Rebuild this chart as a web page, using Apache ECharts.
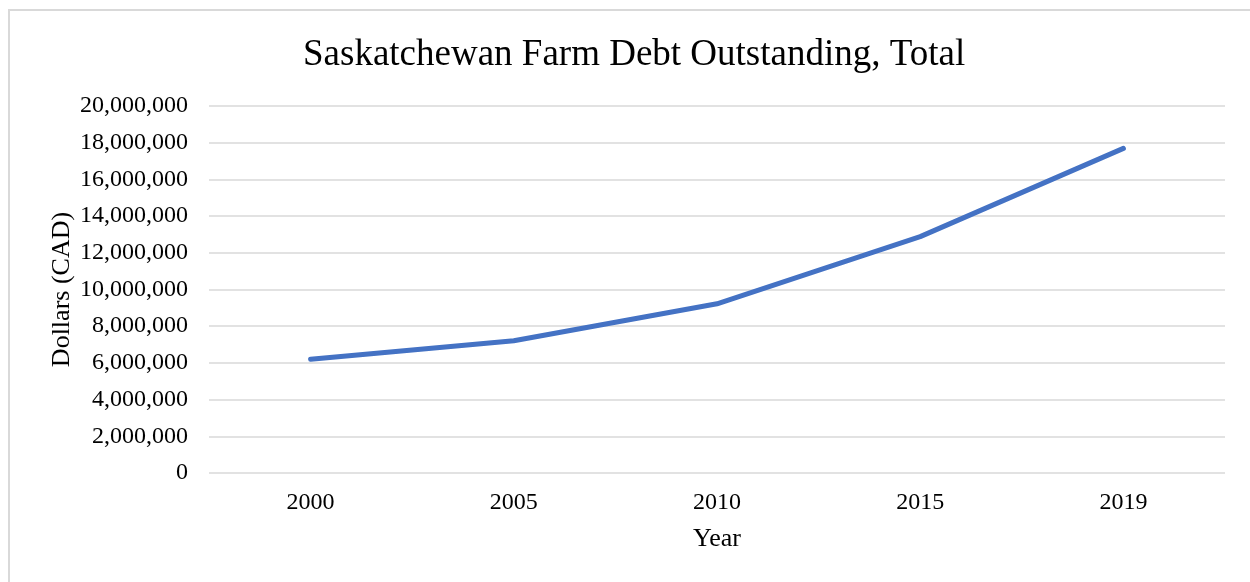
<!DOCTYPE html>
<html>
<head>
<meta charset="utf-8">
<title>Saskatchewan Farm Debt Outstanding, Total</title>
<script src="https://cdn.jsdelivr.net/npm/echarts@6/dist/echarts.min.js"></script>
<style>
  html, body { margin: 0; padding: 0; background: #fff; }
  #chart { width: 1250px; height: 582px; }
</style>
</head>
<body>
<div id="chart"></div>
<script>
// data
var years = ['2000', '2005', '2010', '2015', '2019'];
var debtTotal = [6200000, 7210000, 9220000, 12880000, 17690000];

var serif = '"Liberation Serif", "Times New Roman", serif';

var myChart = echarts.init(document.getElementById('chart'));

myChart.setOption({
    backgroundColor: '#fff',
    animation: false,
    title: {
        text: 'Saskatchewan Farm Debt Outstanding, Total',
        left: 298,
        top: 32,
        textStyle: { fontFamily: serif, fontSize: 37, fontWeight: 'normal', color: '#000' }
    },
    // outer chart frame, runs off the right and bottom edge like the original
    graphic: [{
        type: 'rect',
        shape: { x: 9, y: 10, width: 1400, height: 800 },
        style: { fill: 'none', stroke: '#D9D9D9', lineWidth: 2 },
        silent: true
    }],
    grid: { left: 209, right: 25, top: 106, bottom: 109 },
    xAxis: {
        type: 'category',
        data: years,
        boundaryGap: true,
        name: 'Year',
        nameLocation: 'middle',
        nameGap: 53,
        nameTextStyle: { fontFamily: serif, fontSize: 26, color: '#000' },
        axisLine: { show: false },
        axisTick: { show: false },
        axisLabel: { fontFamily: serif, fontSize: 24, color: '#000', margin: 18 }
    },
    yAxis: {
        type: 'value',
        min: 0,
        max: 20000000,
        interval: 2000000,
        name: 'Dollars (CAD)',
        nameLocation: 'middle',
        nameRotate: 90,
        nameGap: 134,
        nameMoveOverlap: false,
        nameTextStyle: { fontFamily: serif, fontSize: 26, color: '#000' },
        axisLine: { show: false },
        axisTick: { show: false },
        axisLabel: {
            fontFamily: serif, fontSize: 24, color: '#000', margin: 21,
            padding: [3, 0, 0, 0],
            formatter: function (v) { return v.toLocaleString('en-US'); }
        },
        splitLine: { lineStyle: { color: '#D9D9D9', width: 1.5 } }
    },
    series: [{
        type: 'line',
        data: debtTotal,
        symbol: 'none',
        lineStyle: { color: '#4472C4', width: 5, cap: 'round', join: 'round' }
    }]
});
</script>
</body>
</html>
